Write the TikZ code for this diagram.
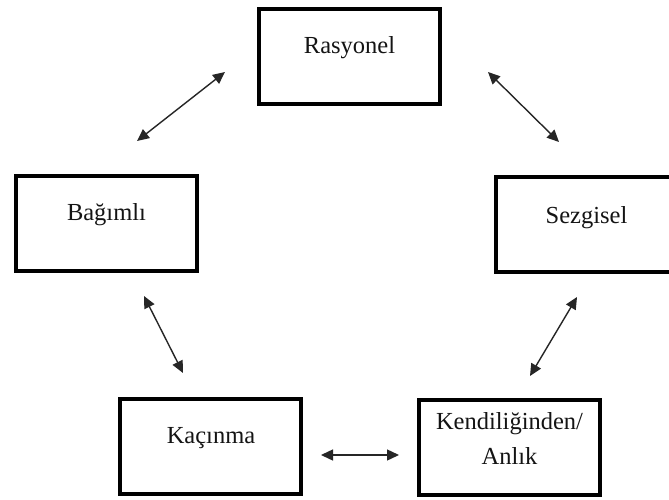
\documentclass[tikz,border=0pt]{standalone}
\usepackage{fontspec}
\setmainfont{Liberation Serif}
\usetikzlibrary{arrows.meta}

\tikzset{
  stylebox/.style={draw=black, line width=4pt, rectangle, inner sep=0pt,
    minimum width=181pt, minimum height=95pt, fill=white},
  boxtext/.style={anchor=base, inner sep=0pt, text=black!92,
    font=\fontsize{24.5}{30}\selectfont},
  link/.style={draw=black!85, line width=1.4pt,
    {Triangle[length=12pt,width=11pt]}-{Triangle[length=12pt,width=11pt]}}
}

\begin{document}
\begin{tikzpicture}[x=1pt, y=-1pt]
  \clip (0,0) rectangle (669,500);
  \fill[white] (0,0) rectangle (669,500);

  % the five decision styles
  \node[stylebox] (ras) at (349.5,56.5) {};
  \node[stylebox] (bag) at (106.5,223) {};
  \node[stylebox] (sez) at (586.5,224) {};
  \node[stylebox] (kac) at (210.5,446.5) {};
  \node[stylebox] (ken) at (509.5,447) {};

  \node[boxtext] (rasT) at (349.5,54) {Rasyonel};
  \node[boxtext] (bagT) at (106.5,220) {Bağımlı};
  \node[boxtext] (sezT) at (586.5,223) {Sezgisel};
  \node[boxtext] (kacT) at (211,443) {Kaçınma};
  \node[boxtext] (kenT) at (509.5,429) {Kendiliğinden/};
  \node[boxtext] (kenU) at (509.5,464) {Anlık};

  % free ends of the two-way arrows
  \coordinate (bagRasA) at (137,141);
  \coordinate (bagRasB) at (225,72);
  \coordinate (rasSezA) at (488,72);
  \coordinate (rasSezB) at (559,142);
  \coordinate (bagKacA) at (144,296);
  \coordinate (bagKacB) at (183,373);
  \coordinate (sezKenA) at (577,297);
  \coordinate (sezKenB) at (530,376);
  \coordinate (kacKenA) at (321,455);
  \coordinate (kacKenB) at (399,455);

  \draw[link] (bagRasA) -- (bagRasB);
  \draw[link] (rasSezA) -- (rasSezB);
  \draw[link] (bagKacA) -- (bagKacB);
  \draw[link] (sezKenA) -- (sezKenB);
  \draw[link] (kacKenA) -- (kacKenB);
\end{tikzpicture}
\end{document}
